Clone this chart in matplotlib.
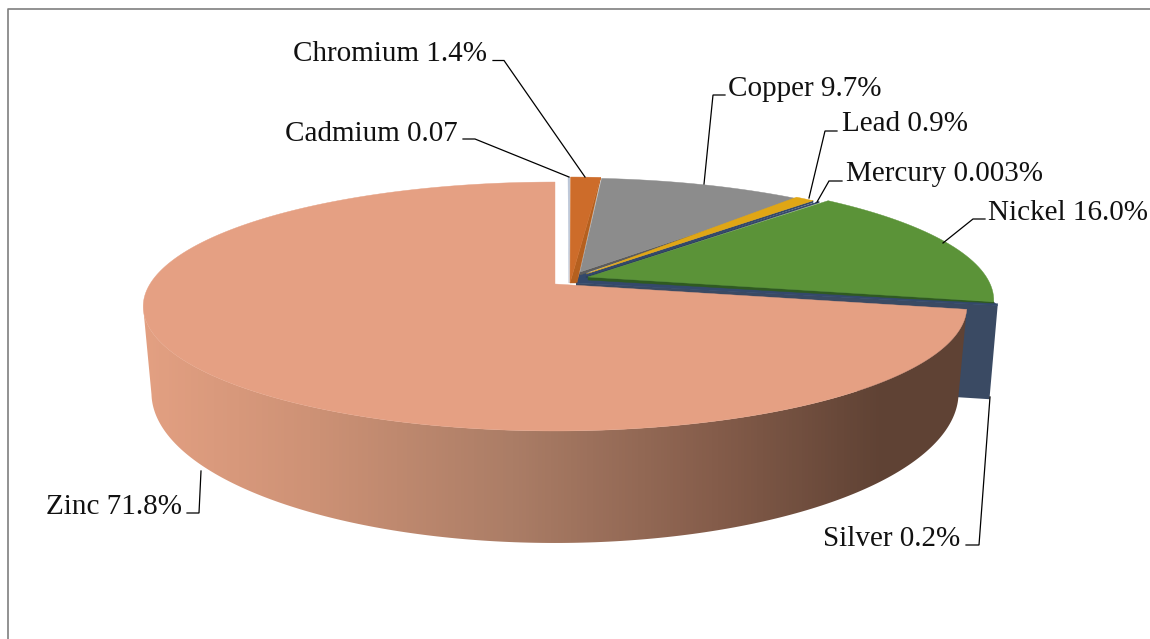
import numpy as np
import matplotlib
matplotlib.use("Agg")
import matplotlib.pyplot as plt
from matplotlib.colors import LinearSegmentedColormap
from matplotlib.patches import Polygon

# data
names = ["Cadmium", "Chromium", "Copper", "Lead", "Mercury", "Nickel", "Silver", "Zinc"]
values = [0.07, 1.4, 9.7, 0.9, 0.003, 16.0, 0.2, 71.8]
label_texts = ["Cadmium 0.07", "Chromium 1.4%", "Copper 9.7%", "Lead 0.9%",
               "Mercury 0.003%", "Nickel 16.0%", "Silver 0.2%", "Zinc 71.8%"]

# style
colors = ["#B9C4D6", "#CD6C2A", "#8C8C8C", "#E0A615", "#34496B", "#5B9338", "#34496B", "#E5A083"]
edge_colors = ["#8A96AA", "#B5601F", "#5C5C5C", "#34496B", "#2E4060", "#2F5A20", "#34496B", "#E5A083"]
origin = [(568, 279), (569, 279), (570, 280), (567, 278), (573, 279), (582, 278), (586, 280), (555, 284)]
tips = [(569, 283), (570, 283), (580, 272), (586, 274), (586, 276), (588, 277), (576, 283), (555, 284)]
cut_tip = [(0, 0), (7, 0), (0, 3), (0, 3), (0, 2), (0, 3), (0, 0), (0, 0)]
cut_out = [(0, 0), (0, 1), (0, 2), (0, 2), (0, 1), (0, 2), (0, 0), (0, 0)]
label_pos = [(285, 141), (293, 61), (728, 96), (842, 131), (846, 181), (988, 220), (823, 546), (46, 514)]
leaders = [
    [(463, 139), (475, 139), (569, 177)],
    [(493, 60.5), (504, 60.5), (585, 177)],
    [(725, 95), (713, 95), (704, 184)],
    [(837, 131), (825, 131), (809, 198)],
    [(842, 181), (829, 181), (817, 202)],
    [(985, 219), (973, 219), (943, 243)],
    [(966, 545), (979, 545), (990, 397)],
    [(187, 513), (199, 513), (201, 471)],
]

BX, AY, P = 405.0, 120.4, 0.1807


def project(theta_deg):
    t = np.radians(np.asarray(theta_deg, dtype=float))
    X, Y = np.sin(t), np.cos(t)
    d = 1 + P * Y
    return BX * X / d, -AY * Y / d


def lower(x, y):
    return 0.98 * x, 81.6 + 1.207 * y


fig = plt.figure(figsize=(11.5, 6.39), dpi=100)
ax = fig.add_axes([0, 0, 1, 1])
ax.set_xlim(0, 1150)
ax.set_ylim(639, 0)
ax.axis("off")

# frame
ax.plot([7.5, 7.5, 1150], [639, 8.5, 8.5], color="#7F7F7F", lw=1.2, zorder=1)

total = sum(values)
edges = np.concatenate([[0], np.cumsum(values)]) / total * 360

# Silver cut face and the dark core under the slice tips
sx, sy = project(edges[7])
o = origin[6]
lx, ly = lower(sx, sy)
ax.add_patch(Polygon([tips[6], (o[0] + sx, o[1] + sy), (o[0] + lx, o[1] + ly + 7), (tips[6][0], tips[6][1] + 90)],
                     closed=True, fc="#3A4A63", ec="none", zorder=2))
nx, ny = project(edges[6])
n = origin[5]
ax.add_patch(Polygon([tips[2], (n[0] + nx, n[1] + ny), (o[0] + sx, o[1] + sy), tips[6]],
                     closed=True, fc="#34496B", ec="none", zorder=2.5))

# top faces, back slices
for i in range(7):
    th = np.linspace(edges[i], edges[i + 1], 40)
    x, y = project(th)
    o, t = origin[i], tips[i]
    ex, ey = project(edges[i + 1])
    end = (o[0] + ex, o[1] + ey)
    ax.add_patch(Polygon([t, end, (end[0] + cut_out[i][0], end[1] + cut_out[i][1]),
                          (t[0] + cut_tip[i][0], t[1] + cut_tip[i][1])],
                         closed=True, fc=edge_colors[i], ec=edge_colors[i], lw=0.3, zorder=3 + i * 0.1))
    ax.fill(np.r_[t[0], o[0] + x], np.r_[t[1], o[1] + y], color=colors[i], lw=0.3, zorder=3.05 + i * 0.1)

# Zinc wall with gradient
a = origin[7]
th = np.linspace(edges[7], 259, 200)
x, y = project(th)
lx, ly = lower(x, y)
wall = np.c_[np.r_[a[0] + x, (a[0] + lx)[::-1]], np.r_[a[1] + y, (a[1] + ly)[::-1]]]
cmap = LinearSegmentedColormap.from_list(
    "wall", [(0, "#E3A082"), (0.2, "#CE9276"), (0.45, "#AB7D66"), (0.7, "#845C4A"), (0.9, "#5F4234"), (1, "#5F4234")])
im = ax.imshow(np.linspace(0, 1, 256)[None, :], extent=(143, 966, 560, 290), cmap=cmap,
               aspect="auto", zorder=4)
clip = Polygon(wall, closed=True, transform=ax.transData, fc="none", ec="none")
ax.add_patch(clip)
im.set_clip_path(clip)
ax.set_xlim(0, 1150)
ax.set_ylim(639, 0)

# Zinc top
th = np.linspace(edges[7], 360, 300)
x, y = project(th)
ax.fill(np.r_[a[0], a[0] + x], np.r_[a[1], a[1] + y], color=colors[7], lw=0.3, zorder=5)

# leaders and labels
for pts, text, pos in zip(leaders, label_texts, label_pos):
    p = np.array(pts)
    ax.plot(p[:, 0], p[:, 1], color="black", lw=0.9, zorder=6, solid_joinstyle="miter")
    ax.text(pos[0], pos[1], text, family="Liberation Serif", fontsize=21, color="#111111",
            ha="left", va="baseline", zorder=7)

fig.savefig("out.png", dpi=100)
